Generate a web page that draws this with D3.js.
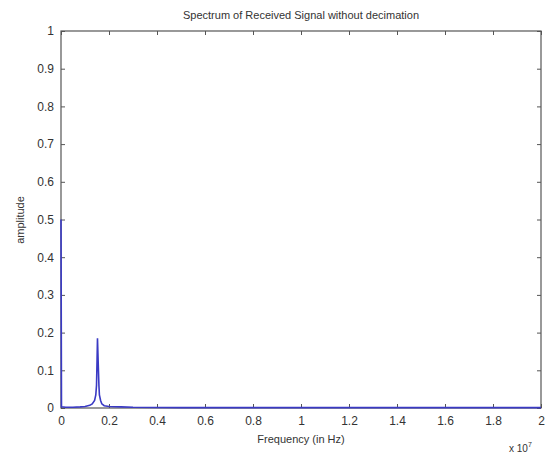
<!DOCTYPE html>
<html>
<head>
<meta charset="utf-8">
<script src="https://cdn.jsdelivr.net/npm/d3@7"></script>
<style>
  body { margin: 0; background: #fff; }
  text { font-family: "Liberation Sans", Arial, sans-serif; fill: #333; }
</style>
</head>
<body>
<svg id="chart" width="548" height="457"></svg>
<script>
// frequency in units of 1e7 Hz, amplitude
const freq = [0, 0.002, 0.02, 0.05, 0.08, 0.10, 0.12, 0.13, 0.14, 0.145, 0.148, 0.150,
  0.152, 0.155, 0.158, 0.16, 0.165, 0.17, 0.18, 0.2, 0.25, 0.3, 0.5, 1.0, 1.5, 2.0];
const amp = [0.5, 0.003, 0.002, 0.002, 0.003, 0.004, 0.007, 0.011, 0.02, 0.035, 0.06, 0.12,
  0.185, 0.12, 0.06, 0.035, 0.02, 0.011, 0.006, 0.004, 0.003, 0.002, 0.001, 0.001, 0.001, 0.001];
const xTicks = [0, 0.2, 0.4, 0.6, 0.8, 1, 1.2, 1.4, 1.6, 1.8, 2];
const yTicks = [0, 0.1, 0.2, 0.3, 0.4, 0.5, 0.6, 0.7, 0.8, 0.9, 1];

const mLeft = 61, mRight = 541, mTop = 31, mBottom = 408;
const svg = d3.select("#chart");

const x = d3.scaleLinear().domain([0, 2]).range([mLeft, mRight]);
const y = d3.scaleLinear().domain([0, 1]).range([mBottom, mTop]);
const fmt = d => String(+d.toFixed(1));

// box
svg.append("rect")
  .attr("x", mLeft).attr("y", mTop)
  .attr("width", mRight - mLeft).attr("height", mBottom - mTop)
  .attr("fill", "none").attr("stroke", "#555").attr("stroke-width", 1.2);

// ticks inward on all four sides
svg.append("g").attr("transform", `translate(0,${mBottom})`)
  .call(d3.axisBottom(x).tickValues(xTicks).tickSizeInner(-4).tickSizeOuter(0).tickPadding(8).tickFormat(fmt))
  .call(g => g.select(".domain").remove());
svg.append("g").attr("transform", `translate(0,${mTop})`)
  .call(d3.axisTop(x).tickValues(xTicks).tickSizeInner(-4).tickSizeOuter(0).tickFormat(""))
  .call(g => g.select(".domain").remove());
svg.append("g").attr("transform", `translate(${mLeft},0)`)
  .call(d3.axisLeft(y).tickValues(yTicks).tickSizeInner(-4).tickSizeOuter(0).tickPadding(7).tickFormat(fmt))
  .call(g => g.select(".domain").remove());
svg.append("g").attr("transform", `translate(${mRight},0)`)
  .call(d3.axisRight(y).tickValues(yTicks).tickSizeInner(-4).tickSizeOuter(0).tickFormat(""))
  .call(g => g.select(".domain").remove());

svg.selectAll(".tick line").attr("stroke", "#555");
svg.selectAll(".tick text").style("font-size", "12px").attr("fill", "#333");

// spectrum
const pts = freq.map((f, i) => [f, amp[i]]);
const line = d3.line().x(d => x(d[0])).y(d => y(d[1]));
svg.append("path")
  .datum(pts)
  .attr("d", line)
  .attr("fill", "none")
  .attr("stroke", "#3a3ac4")
  .attr("stroke-width", 1.6);

// titles
svg.append("text").text("Spectrum of Received Signal without decimation")
  .attr("x", (mLeft + mRight) / 2).attr("y", 19).attr("text-anchor", "middle").style("font-size", "11px");
svg.append("text").text("Frequency (in Hz)")
  .attr("x", (mLeft + mRight) / 2).attr("y", 443).attr("text-anchor", "middle").style("font-size", "11px");
svg.append("text").attr("transform", "translate(24,220) rotate(-90)")
  .attr("text-anchor", "middle").style("font-size", "11px").text("amplitude");
const exp = svg.append("text").attr("x", 509).attr("y", 452).style("font-size", "10px");
exp.append("tspan").text("x 10");
exp.append("tspan").attr("dy", -5).style("font-size", "7px").text("7");
</script>
</body>
</html>
